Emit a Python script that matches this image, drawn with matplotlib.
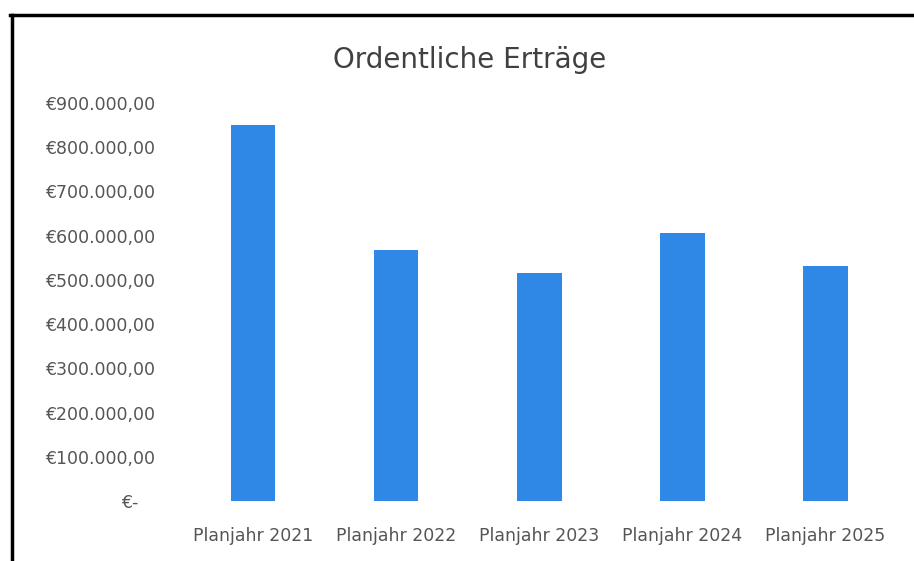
import matplotlib.pyplot as plt
from matplotlib.lines import Line2D
from matplotlib.ticker import FuncFormatter

plt.rcParams['font.family'] = ['DejaVu Sans']

categories = ['Planjahr 2021', 'Planjahr 2022', 'Planjahr 2023', 'Planjahr 2024', 'Planjahr 2025']
ertraege = [850000, 568000, 516000, 606000, 532000]
y_ticks = [0, 100000, 200000, 300000, 400000, 500000, 600000, 700000, 800000, 900000]


def euro(v, pos):
    if v == 0:
        return '€-   '
    s = '{:,.2f}'.format(v)
    s = s.replace(',', 'X').replace('.', ',').replace('X', '.')
    return '€' + s


fig = plt.figure(figsize=(9.14, 5.61), dpi=100)
ax = fig.add_axes([0.1986, 0.107, 0.783, 0.7094])

ax.bar(range(len(categories)), ertraege, width=0.31, color='#2F87E6')
ax.set_xlim(-0.5, len(categories) - 0.5)
ax.set_ylim(0, 900000)
ax.set_yticks(y_ticks)
ax.yaxis.set_major_formatter(FuncFormatter(euro))
ax.set_xticks(range(len(categories)))
ax.set_xticklabels(categories)

for s in ax.spines.values():
    s.set_visible(False)
ax.tick_params(axis='both', length=0, colors='#555555', labelsize=12.5)
ax.tick_params(axis='y', pad=19)
ax.tick_params(axis='x', pad=19)

fig.text(0.514, 0.893, 'Ordentliche Erträge', ha='center', va='center',
         fontsize=20, color='#404040')

# frame of the chart area
fig.add_artist(Line2D([0.013, 0.013], [0.0, 0.973], color='black', lw=2.5))
fig.add_artist(Line2D([0.011, 1.0], [0.973, 0.973], color='black', lw=2.5))

fig.savefig('out.png', dpi=100)
